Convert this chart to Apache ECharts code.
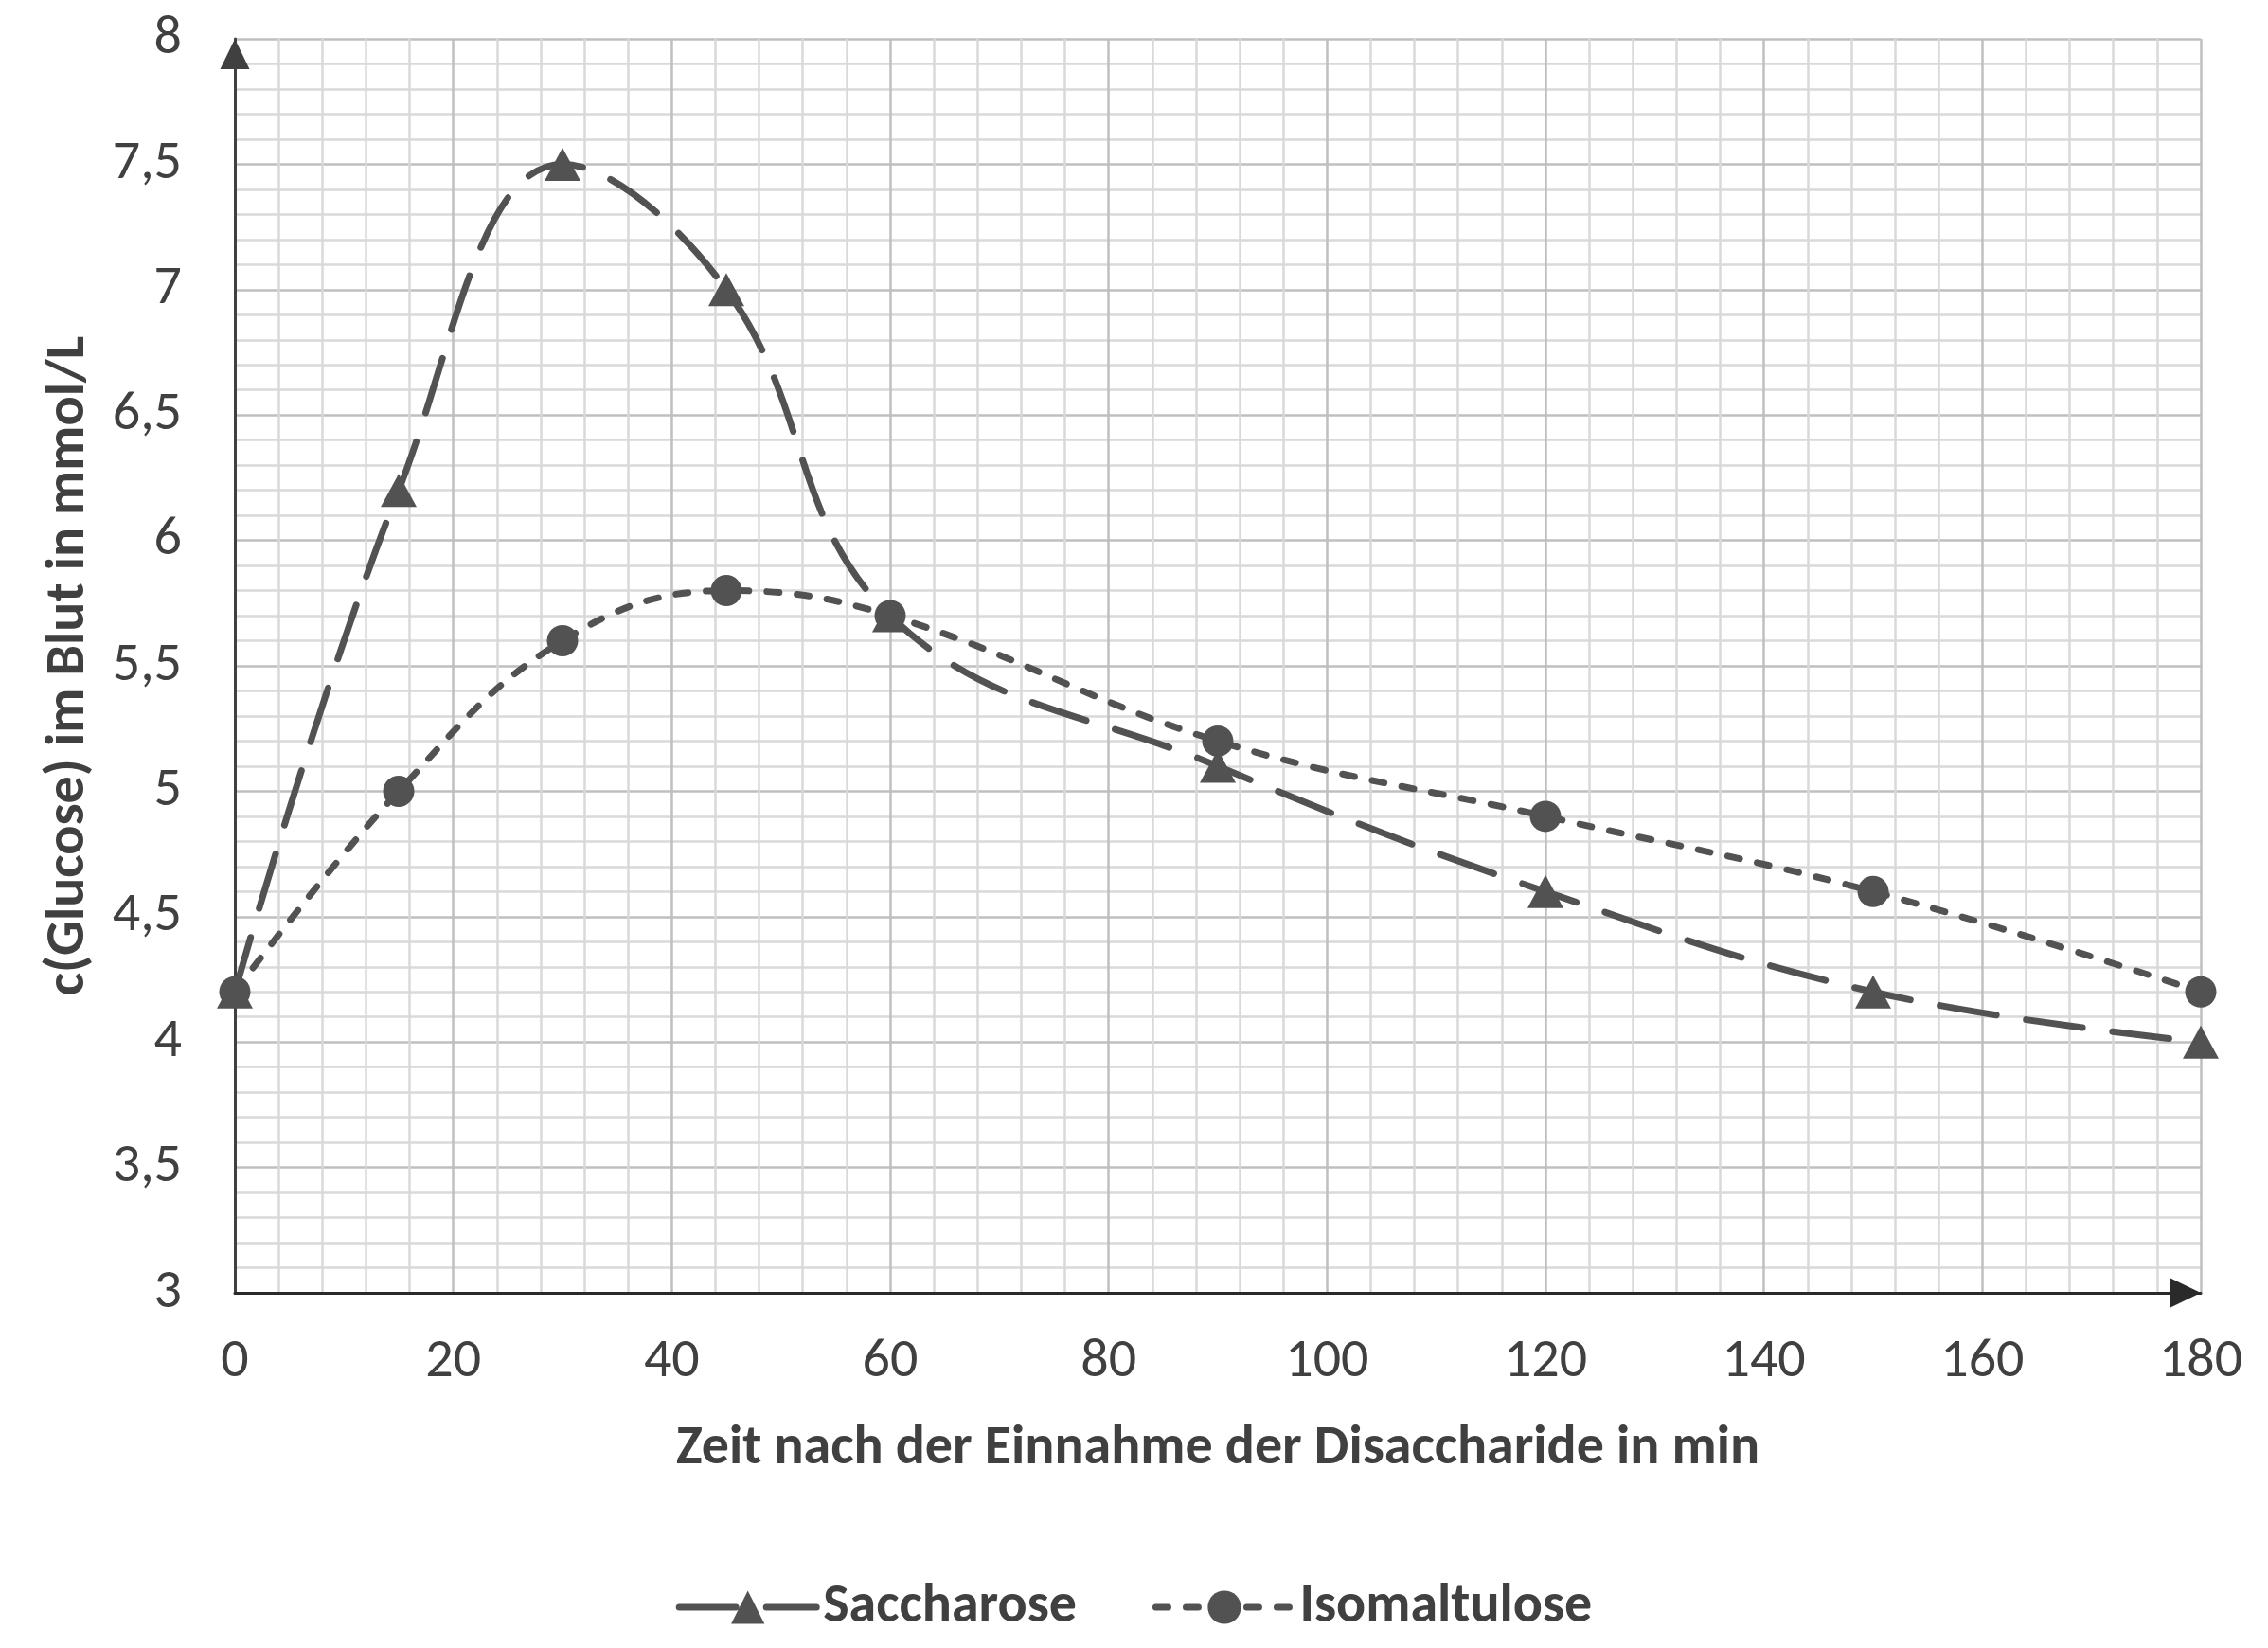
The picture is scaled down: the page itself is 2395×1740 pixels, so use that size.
<!DOCTYPE html>
<html><head><meta charset="utf-8">
<script src="https://cdn.jsdelivr.net/npm/echarts@6/dist/echarts.min.js"></script>
<style>html,body{margin:0;padding:0;background:#fff}#c{width:2395px;height:1740px}</style>
</head><body><div id="c"></div>
<script>
const times = [0, 15, 30, 45, 60, 90, 120, 150, 180];
const saccharose = [4.2, 6.2, 7.5, 7.0, 5.7, 5.1, 4.6, 4.2, 4.0];
const isomaltulose = [4.2, 5.0, 5.6, 5.8, 5.7, 5.2, 4.9, 4.6, 4.2];
const seriesNames = ['Saccharose', 'Isomaltulose'];
const xTitle = 'Zeit nach der Einnahme der Disaccharide in min';
const yTitle = 'c(Glucose) im Blut in mmol/L';

const FONT = 'Carlito, Lato, "Noto Sans", sans-serif';
const INK = '#404040';
const LINE = '#525252';

const chart = echarts.init(document.getElementById('c'), null, {renderer: 'canvas'});
chart.setOption({
  animation: false,
  backgroundColor: '#ffffff',
  grid: {left: 248, right: 71, top: 41, bottom: 375, containLabel: false, outerBoundsMode: 'none'},
  legend: {
    data: seriesNames,
    top: 1663, left: 'center',
    itemWidth: 145, itemHeight: 44, itemGap: 80,
    lineStyle: {width: 7, cap: 'round'},
    textStyle: {fontSize: 58, fontWeight: 'bold', color: INK, fontFamily: FONT, padding: [0, 0, 0, 2]}
  },
  xAxis: {
    type: 'value', min: 0, max: 180, interval: 20,
    name: xTitle, nameLocation: 'middle', nameGap: 136,
    nameTextStyle: {fontSize: 58, fontWeight: 'bold', color: INK, fontFamily: FONT},
    axisLine: {show: true, onZero: false, symbol: ['none', 'triangle'], symbolSize: [31, 32], symbolOffset: [0, -16],
      lineStyle: {color: '#2a2a2a', width: 3}},
    axisTick: {show: false},
    axisLabel: {fontSize: 58, color: INK, fontFamily: FONT, margin: 44, showMinLabel: true, showMaxLabel: true},
    splitLine: {show: true, lineStyle: {color: '#bfbfbf', width: 2.5}},
    minorTick: {show: false, splitNumber: 5},
    minorSplitLine: {show: true, lineStyle: {color: '#d9d9d9', width: 2.5}}
  },
  yAxis: {
    type: 'value', min: 3, max: 8, interval: 0.5,
    name: yTitle, nameLocation: 'middle', nameGap: 146, nameRotate: 90,
    nameTextStyle: {fontSize: 58, fontWeight: 'bold', color: INK, fontFamily: FONT},
    axisLine: {show: true, onZero: false, symbol: ['none', 'triangle'], symbolSize: [31, 32], symbolOffset: [0, -16],
      lineStyle: {color: '#404040', width: 3}},
    axisTick: {show: false},
    axisLabel: {fontSize: 58, color: INK, fontFamily: FONT, margin: 56,
      formatter: v => String(v).replace('.', ','), showMinLabel: true, showMaxLabel: true},
    splitLine: {show: true, lineStyle: {color: '#bfbfbf', width: 2.5}},
    minorTick: {show: false, splitNumber: 5},
    minorSplitLine: {show: true, lineStyle: {color: '#d9d9d9', width: 2.5}}
  },
  series: [
    {
      name: seriesNames[0], type: 'line', smooth: 0.4,
      data: times.map((t, i) => [t, saccharose[i]]),
      symbol: 'triangle', symbolSize: [38, 35],
      itemStyle: {color: LINE},
      lineStyle: {color: LINE, width: 7, type: [60, 32], cap: 'round'},
      z: 3
    },
    {
      name: seriesNames[1], type: 'line', smooth: 0.4,
      data: times.map((t, i) => [t, isomaltulose[i]]),
      symbol: 'circle', symbolSize: 33,
      itemStyle: {color: LINE},
      lineStyle: {color: LINE, width: 7, type: [13, 19], cap: 'round'},
      z: 4
    }
  ]
});
</script></body></html>
